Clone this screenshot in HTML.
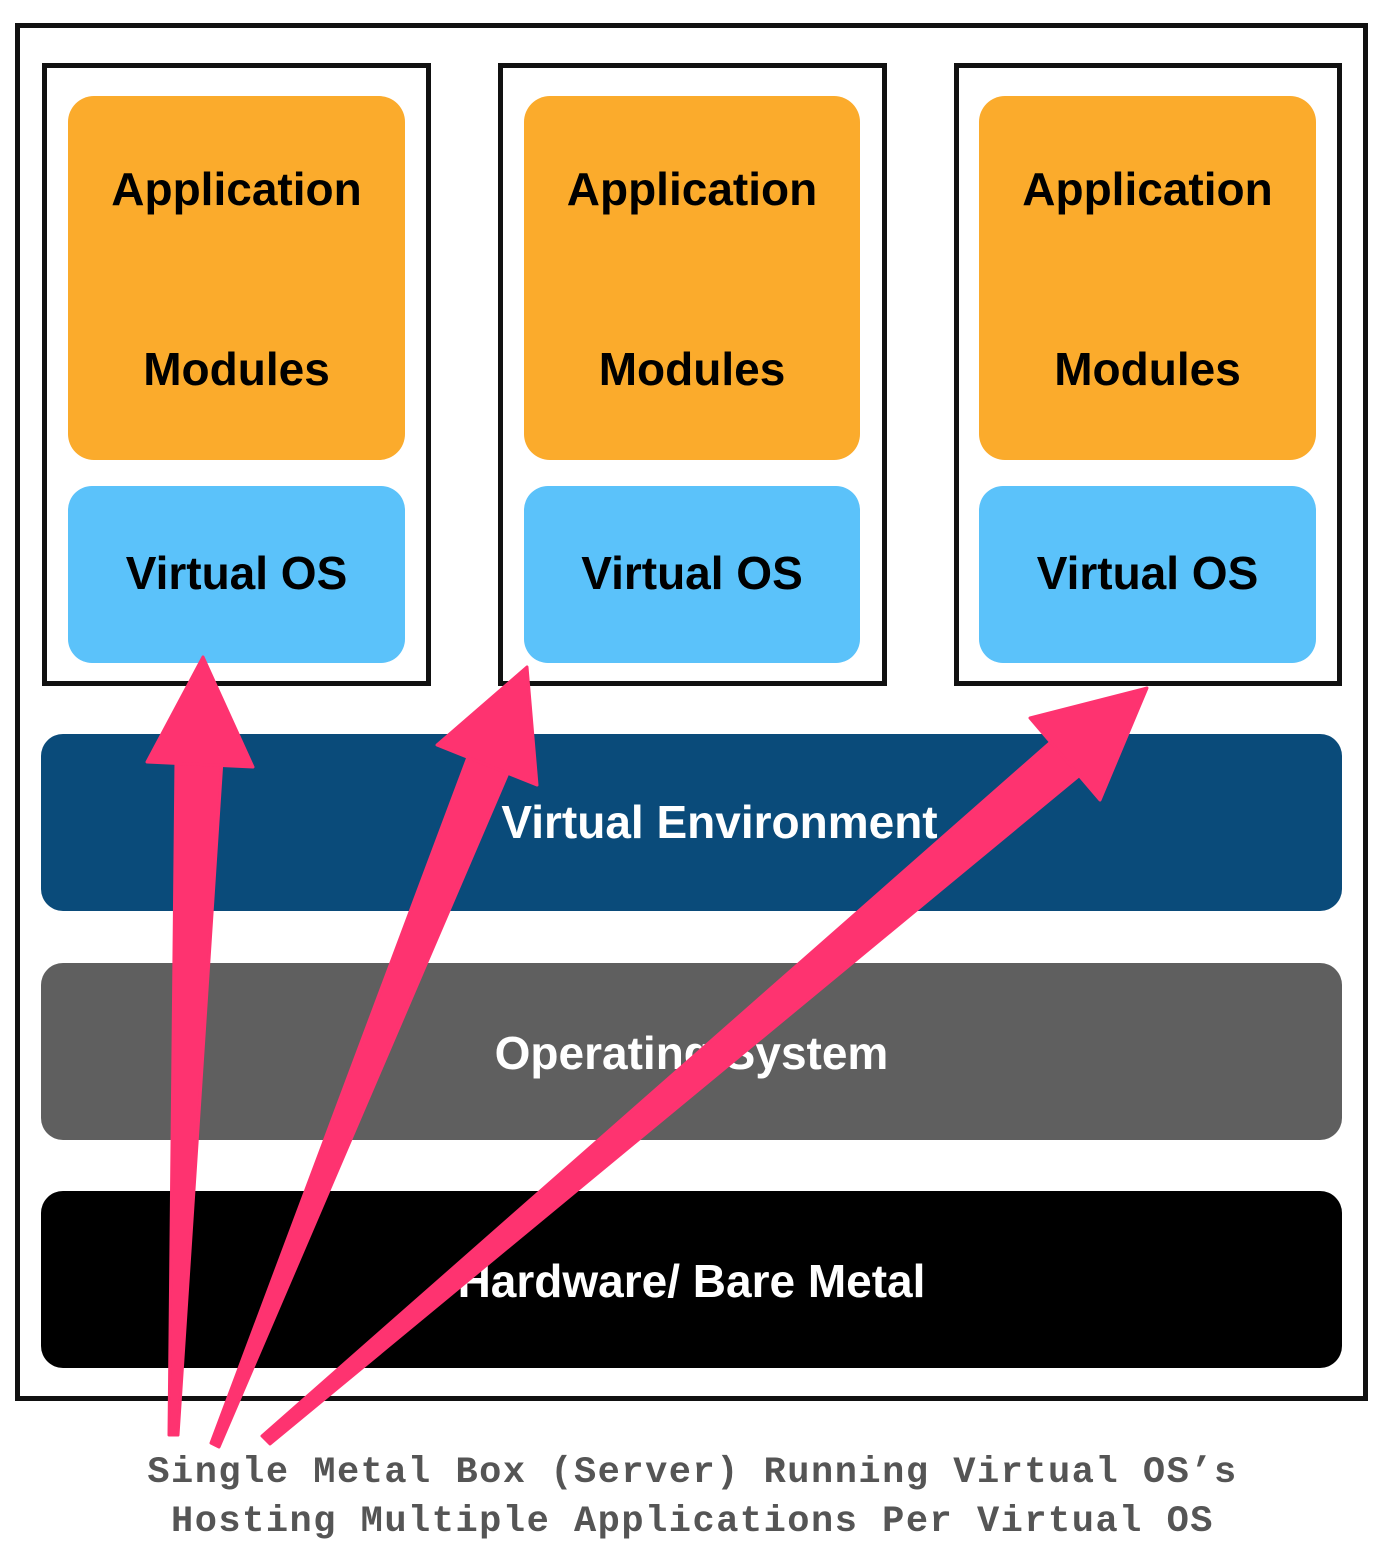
<!DOCTYPE html>
<html><head><meta charset="utf-8"><style>
body{margin:0;width:1385px;height:1554px;background:#fff;position:relative;overflow:hidden;font-family:"Liberation Sans",Arial,sans-serif}
.b{position:absolute;box-sizing:border-box}
.frame{border:5px solid #111}
.or{background:#fbab2c;border-radius:26px}
.bl{background:#5bc2fa;border-radius:24px}
.t{position:absolute;left:0;right:0;text-align:center;font-weight:bold;font-size:46px;color:#000}
.bar{border-radius:22px;left:41px;width:1301px;height:177px;color:#fff;font-weight:bold;font-size:46px;text-align:center;line-height:177px}
.cap{position:absolute;left:0;width:1385px;text-align:center;font-family:"Liberation Mono",monospace;font-size:37px;color:#555;letter-spacing:1.5px;font-weight:bold}
</style></head><body>
<div class="b frame" style="left:15px;top:23px;width:1353px;height:1378px"></div>
<div class="b frame" style="left:42px;top:63px;width:389px;height:623px"></div>
<div class="b frame" style="left:498px;top:63px;width:389px;height:623px"></div>
<div class="b frame" style="left:954px;top:63px;width:388px;height:623px"></div>

<div class="b or" style="left:68px;top:96px;width:337px;height:364px"><div class="t" style="top:66px">Application</div><div class="t" style="top:246px">Modules</div></div>
<div class="b or" style="left:524px;top:96px;width:336px;height:364px"><div class="t" style="top:66px">Application</div><div class="t" style="top:246px">Modules</div></div>
<div class="b or" style="left:979px;top:96px;width:337px;height:364px"><div class="t" style="top:66px">Application</div><div class="t" style="top:246px">Modules</div></div>

<div class="b bl" style="left:68px;top:486px;width:337px;height:177px"><div class="t" style="top:60px">Virtual OS</div></div>
<div class="b bl" style="left:524px;top:486px;width:336px;height:177px"><div class="t" style="top:60px">Virtual OS</div></div>
<div class="b bl" style="left:979px;top:486px;width:337px;height:177px"><div class="t" style="top:60px">Virtual OS</div></div>

<div class="b bar" style="top:734px;background:#0a4b7a;padding-left:56px">Virtual Environment</div>
<div class="b bar" style="top:963px;background:#5f5f5f;line-height:180px">Operating System</div>
<div class="b bar" style="top:1191px;background:#000;line-height:180px;padding-left:0px">Hardware/ Bare Metal</div>

<svg width="1385" height="1554" style="position:absolute;left:0;top:0">
<g fill="#fe3370" stroke="#fe3370" stroke-width="3" stroke-linejoin="round">
<polygon points="169,1435 178,1435 222,760 176,760"/>
<polygon points="147,762 203,657 253,767"/>
<polygon points="211,1443 219,1447 508,773 468,757"/>
<polygon points="437,745 527,667 537,785"/>
<polygon points="262,1436 270,1444 1080,775 1053,740"/>
<polygon points="1030,718 1147,688 1100,800"/>
</g>
</svg>

<div class="cap" style="top:1452px">Single Metal Box (Server) Running Virtual OS’s</div>
<div class="cap" style="top:1501px">Hosting Multiple Applications Per Virtual OS</div>
</body></html>
